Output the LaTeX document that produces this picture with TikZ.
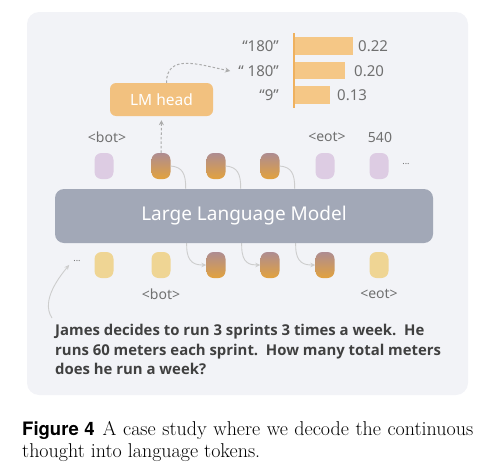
\documentclass[tikz,border=0pt]{standalone}
\usepackage{fontspec}
\usetikzlibrary{arrows.meta,calc}
\newfontfamily\diag{Noto Sans}
\newfontfamily\qfont{Open Sans}
\newfontfamily\capsans{TeX Gyre Heros}
\definecolor{panelc}{HTML}{F2F3F7}
\definecolor{lmc}{HTML}{F2C17F}
\definecolor{barc}{HTML}{F5C786}
\definecolor{axisc}{HTML}{EFB15F}
\definecolor{llmc}{HTML}{A2A8B7}
\definecolor{purpc}{HTML}{DDCCE3}
\definecolor{yelc}{HTML}{EFD594}
\definecolor{gtop}{HTML}{AE8C91}
\definecolor{gbot}{HTML}{E2A23E}
\definecolor{lblc}{HTML}{707070}
\definecolor{connc}{HTML}{CDCDCD}
\definecolor{dashc}{HTML}{ABABAB}
\definecolor{qc}{HTML}{404040}
\begin{document}
\begin{tikzpicture}[x=1pt,y=-1pt,
  tok/.style={minimum width=19pt,minimum height=26pt,rounded corners=7pt,inner sep=0pt,draw=none},
  ptok/.style={tok,fill=purpc},
  ytok/.style={tok,fill=yelc},
  gtok/.style={tok,top color=gtop,bottom color=gbot},
  lbl/.style={text=lblc,font=\diag\fontsize{14}{16}\selectfont,inner sep=0pt},
  dots/.style={text=lblc,font=\diag\fontsize{9}{10}\selectfont,inner sep=0pt},
  conn/.style={draw=connc,line width=0.9pt,-{Stealth[length=5pt,width=4.5pt]}},
  dasharrow/.style={draw=dashc,line width=1pt,dash pattern=on 2.5pt off 2pt,-{Stealth[length=5pt,width=5pt]}}
]
\useasboundingbox (0,0) rectangle (501,474);
\fill[panelc,rounded corners=12pt] (27,12) rectangle (468,395);

% top tokens
\node[ptok] (t1) at (104,166) {};
\node[gtok] (t2) at (161,166) {};
\node[gtok] (t3) at (216,166) {};
\node[gtok] (t4) at (270,166) {};
\node[ptok] (t5) at (325,166) {};
\node[ptok] (t6) at (379,166) {};
\node[dots] (tdots) at (406,164) {...};
% bottom tokens
\node[ytok] (b1) at (104,265) {};
\node[ytok] (b2) at (161,265) {};
\node[gtok] (b3) at (216,265) {};
\node[gtok] (b4) at (270,265) {};
\node[gtok] (b5) at (325,265) {};
\node[ytok] (b6) at (379,265) {};
\node[dots] (bdots) at (77,261) {...};

% connectors behind the LLM box
\draw[conn] (t2.east) .. controls +(12,1) and +(0,-14) .. ++(15,22) -- ++(1,58) .. controls +(0,18) and +(-10,0) .. (b3.west);
\draw[conn] (t3.east) .. controls +(12,1) and +(0,-14) .. ++(15,22) -- ++(1,58) .. controls +(0,18) and +(-10,0) .. (b4.west);
\draw[conn] (t4.east) .. controls +(12,1) and +(0,-14) .. ++(15,22) -- ++(1,58) .. controls +(0,18) and +(-10,0) .. (b5.west);

% LLM box
\node[fill=llmc,rounded corners=9pt,minimum width=378pt,minimum height=54pt,inner sep=0pt,
      text=white,font=\diag\fontsize{19}{22}\selectfont] (llm) at (244,216) {Large Language Model};

% labels
\node[lbl] (lb1) at (107,137) {<bot>};
\node[lbl] (lb5) at (327,137) {<eot>};
\node[lbl] (lb6) at (380,137) {540};
\node[lbl] (lb2b) at (161,294) {<bot>};
\node[lbl] (lb6b) at (379,294) {<eot>};

% LM head
\node[fill=lmc,rounded corners=6pt,minimum width=103pt,minimum height=33pt,inner sep=0pt,
      text=white,font=\diag\fontsize{15.5}{18}\selectfont] (lm) at (161.5,99.5) {LM head};
\draw[dasharrow,shorten >=4pt] (t2.north) -- (lm.south);

% bar chart
\fill[barc] (294,37) rectangle (353,55);
\fill[barc] (294,62) rectangle (345,79);
\fill[barc] (294,86) rectangle (330,104);
\draw[axisc,line width=2pt] (294,33) -- (294,108);
\node[lbl,anchor=east,font=\diag\fontsize{15}{17}\selectfont] (c1) at (279,46) {“180”};
\node[lbl,anchor=east,font=\diag\fontsize{15}{17}\selectfont] (c2) at (279,71) {“ 180”};
\node[lbl,anchor=east,font=\diag\fontsize{15}{17}\selectfont] (c3) at (279,95) {“9”};
\node[lbl,anchor=west,font=\diag\fontsize{15}{17}\selectfont] (v1) at (358,46) {0.22};
\node[lbl,anchor=west,font=\diag\fontsize{15}{17}\selectfont] (v2) at (354,71) {0.20};
\node[lbl,anchor=west,font=\diag\fontsize{15}{17}\selectfont] (v3) at (337,95) {0.13};
\draw[dasharrow] ([xshift=5pt]lm.north) .. controls +(0,-30) and +(-30,-6) .. ([xshift=-8pt]c2.west);

% question
\node[anchor=north west,align=left,inner sep=0pt,text=qc,
      font=\qfont\bfseries\fontsize{14.9}{19.5}\selectfont] (q) at (55,324)
  {James decides to run 3 sprints 3 times a week.\ \ He\\
   runs 60 meters each sprint.\ \ How many total meters\\
   does he run a week?};
\draw[conn] ([shift={(-3,-6)}]q.north west) .. controls +(-12,-18) and +(-8,10) .. ([shift={(-4,3)}]bdots.south west);

% caption
\node[anchor=north west,inner sep=0pt,text width=451pt,align=justify,
      font=\fontsize{20}{22.5}\selectfont] (cap) at (22,421)
  {{\capsans\bfseries\fontsize{18.5}{22}\selectfont Figure 4}\hspace{8pt}A case study where we decode the continuous thought into language tokens.};
\end{tikzpicture}
\end{document}
